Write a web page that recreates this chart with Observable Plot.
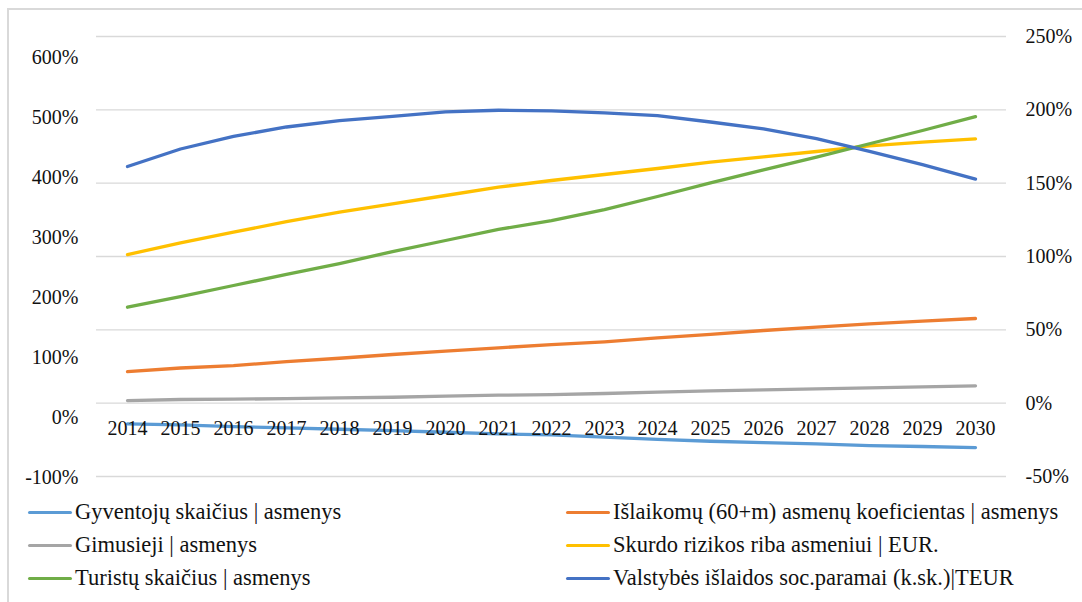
<!DOCTYPE html>
<html>
<head>
<meta charset="utf-8">
<script src="https://cdn.jsdelivr.net/npm/d3@7"></script>
<script src="https://cdn.jsdelivr.net/npm/@observablehq/plot@0.6"></script>
<style>
  body { margin: 0; background: #fff; }
  #wrap { position: relative; width: 1082px; height: 602px; overflow: hidden; background: #fff; font-family: "Liberation Serif", "DejaVu Serif", serif; color: #111; }
  #frame { position: absolute; left: 7px; top: 8px; width: 1200px; height: 700px; border-left: 2px solid #d9d9d9; border-top: 2px solid #d9d9d9; }
  #chart { position: absolute; left: 0; top: 0; }
  #legend { position: absolute; left: 0; top: 497px; width: 1082px; }
  .item { position: absolute; display: flex; align-items: center; font-size: 22.5px; white-space: nowrap; height: 30px; }
  .sw { width: 44px; height: 3px; margin-right: 3px; border-radius: 2px; }
  #chart svg text { font-family: "Liberation Serif", "DejaVu Serif", serif; }
</style>
</head>
<body>
<div id="wrap">
  <div id="frame"></div>
  <div id="chart"></div>
  <div id="legend"></div>
</div>
<script>
// Categories
const years = [2014, 2015, 2016, 2017, 2018, 2019, 2020, 2021, 2022, 2023, 2024, 2025, 2026, 2027, 2028, 2029, 2030];

// Series on the primary (left) axis, in %
const gyventoju = [-11, -12.7, -15.5, -17.7, -20, -22.2, -25, -27.7, -29.5, -33.3, -37, -40, -42.2, -44.3, -47.2, -48.8, -50.5];
const islaikomu = [76, 82, 86, 92.8, 98.3, 104.5, 110, 115.7, 121, 125.7, 132.3, 138, 144.5, 150, 155.7, 160, 164.5];
const gimusieji = [27.8, 29.5, 30, 31, 32.3, 33.3, 35, 36.7, 37.5, 39.5, 41.7, 44, 45.7, 47.3, 49, 50.7, 52.3];
const skurdo = [271, 290.7, 308.3, 326, 341.7, 355.7, 369.5, 383.3, 394.5, 404.5, 414.5, 425, 434, 442.8, 452.3, 458.3, 464];
const turistu = [183.3, 201, 219.5, 238, 256, 276, 294.5, 313, 327.8, 346, 367.8, 390.5, 412.3, 433.3, 455.7, 477.8, 501];

// Series on the secondary (right) axis, in %
const valstybes = [161.4, 173.3, 181.9, 188.3, 192.6, 195.6, 198.6, 199.7, 199.3, 197.9, 196.0, 191.7, 187.0, 180.3, 171.7, 162.6, 152.8];

// Tick labels
const leftTicks = [-100, 0, 100, 200, 300, 400, 500, 600];
const rightTicks = [-50, 0, 50, 100, 150, 200, 250];

// Series names and colours
const seriesNames = [
  "Gyventojų skaičius | asmenys",
  "Išlaikomų (60+m) asmenų koeficientas | asmenys",
  "Gimusieji | asmenys",
  "Skurdo rizikos riba asmeniui | EUR.",
  "Turistų skaičius | asmenys",
  "Valstybės išlaidos soc.paramai (k.sk.)|TEUR"
];
const seriesColors = ["#5B9BD5", "#ED7D31", "#A5A5A5", "#FFC000", "#70AD47", "#4472C4"];

// Alignment of the left axis with the right (plotted) axis, as in the original chart
const leftToRight = d3.scaleLinear([-100, 600], [-50.5, 235.9]);

const primary = [gyventoju, islaikomu, gimusieji, skurdo, turistu];
const rows = [];
primary.forEach((arr, s) => arr.forEach((v, i) => rows.push({series: seriesNames[s], year: years[i], value: leftToRight(v)})));
valstybes.forEach((v, i) => rows.push({series: seriesNames[5], year: years[i], value: v}));

const chart = Plot.plot({
  width: 1082,
  height: 495,
  marginTop: 36,
  marginBottom: 19,
  marginLeft: 96,
  marginRight: 76,
  style: {fontFamily: "Liberation Serif", fontSize: "20px", color: "#111", background: "transparent"},
  x: {type: "point", domain: years, padding: 0.5, axis: null},
  y: {domain: [-50, 250], axis: null},
  color: {domain: seriesNames, range: seriesColors},
  marks: [
    Plot.ruleY(rightTicks, {stroke: "#d9d9d9", strokeWidth: 1.3}),
    Plot.line(rows, {x: "year", y: "value", z: "series", stroke: "series", strokeWidth: 3.3, strokeLinecap: "round", strokeLinejoin: "round"}),
    Plot.text(rightTicks, {y: d => d, frameAnchor: "right", dx: 19, textAnchor: "start", text: d => d + "%", fill: "#111"}),
    Plot.text(leftTicks, {y: d => leftToRight(d), frameAnchor: "left", dx: -18, textAnchor: "end", text: d => d + "%", fill: "#111"}),
    Plot.text(years, {x: d => d, y: () => 0, dy: 25, text: d => String(d), fill: "#111"})
  ]
});
document.getElementById("chart").appendChild(chart);

// Legend
const legend = document.getElementById("legend");
const pos = [[28, 0], [566, 0], [28, 33], [566, 33], [28, 66], [566, 66]];
seriesNames.forEach((name, i) => {
  const it = document.createElement("div");
  it.className = "item";
  it.style.left = pos[i][0] + "px";
  it.style.top = pos[i][1] + "px";
  const sw = document.createElement("span");
  sw.className = "sw";
  sw.style.background = seriesColors[i];
  const tx = document.createElement("span");
  tx.textContent = name;
  it.appendChild(sw);
  it.appendChild(tx);
  legend.appendChild(it);
});
</script>
</body>
</html>
